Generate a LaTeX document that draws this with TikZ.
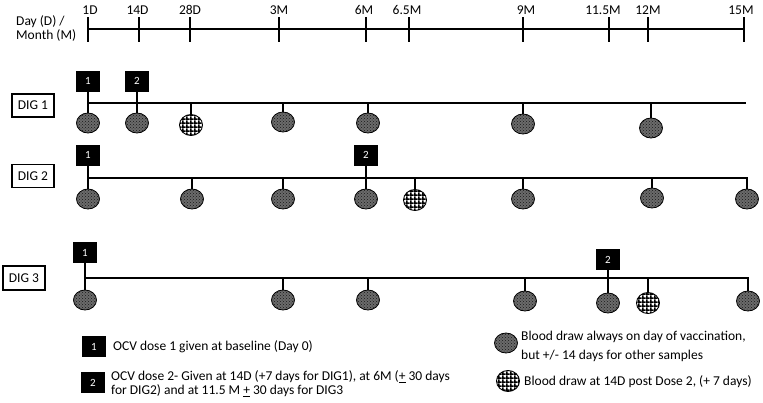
\documentclass[tikz,border=0pt]{standalone}
\usepackage{fontspec}
\setmainfont{Carlito}
\usetikzlibrary{shapes.geometric,patterns}
\pgfdeclarepatternformonly{checkgrid}{\pgfqpoint{0pt}{0pt}}{\pgfqpoint{3.8pt}{3.8pt}}{\pgfqpoint{3.8pt}{3.8pt}}{%
 \pgfpathrectangle{\pgfqpoint{0pt}{0pt}}{\pgfqpoint{3.8pt}{1.7pt}}%
 \pgfpathrectangle{\pgfqpoint{0pt}{0pt}}{\pgfqpoint{1.7pt}{3.8pt}}%
 \pgfusepath{fill}}
\begin{document}
\begin{tikzpicture}[x=1pt,y=-1pt, font=\fontsize{13.5}{14}\selectfont,
 axisline/.style={line width=1.5pt},
 tickmark/.style={line width=2pt},
 rowline/.style={line width=1.5pt},
 stem/.style={line width=1.8pt},
 dosebox/.style={fill=black, text=white, minimum width=24pt, minimum height=21pt, inner sep=0pt, font=\fontsize{11}{12}\selectfont},
 digbox/.style={draw, line width=1.2pt, minimum width=42pt, minimum height=23pt, inner sep=0pt},
 blood/.style={ellipse, draw, line width=0.8pt, minimum width=23pt, minimum height=20pt, inner sep=0pt, fill=black!58, postaction={pattern=crosshatch dots, pattern color=black!90}},
 blood14/.style={ellipse, draw, line width=0.9pt, minimum width=23pt, minimum height=21pt, inner sep=0pt, fill=white, postaction={pattern=checkgrid, pattern color=black}},
 ticklabel/.style={inner sep=0pt}
]
\useasboundingbox (0,0) rectangle (763,402);

% time axis
\node[anchor=west, align=left, inner sep=0pt] (axlab) at (16,28) {Day (D) /\\Month (M)};
\foreach \x/\n/\lab/\lx in {88/t1/1D/90, 139/t14/14D/137.5, 190/t28/28D/190, 279/t3/3M/279, 366/t6/6M/364, 409/t65/6.5M/407, 523/t9/9M/526, 609/t115/11.5M/603, 648/t12/12M/648, 744/t15/15M/741} {
 \coordinate (\n) at (\x,29);
 \draw[tickmark] (\x,17) -- (\x,42);
 \node[ticklabel] (\n lab) at (\lx,10) {\lab};
}
\draw[axisline] (t1) -- (t15);

% DIG 1
\node[digbox] (dig1) at (33,105.5) {DIG 1};
\coordinate (r1s) at (88,103);
\coordinate (r1e) at (746,103);
\draw[rowline] (r1s) -- (r1e);
\node[dosebox] (d11) at (88,81) {1};
\node[dosebox] (d12) at (137,81) {2};
\node[blood] (e11) at (88,123) {};
\node[blood] (e12) at (137,123) {};
\node[blood14] (e13) at (191,125) {};
\node[blood] (e14) at (283,122) {};
\node[blood] (e15) at (368,123) {};
\node[blood] (e16) at (523,124) {};
\node[blood] (e17) at (651,128) {};
\draw[stem] (d11.south) -- (e11.north);
\draw[stem] (d12.south) -- (e12.north);
\foreach \e in {e13,e14,e15,e16,e17} \draw[stem] (\e.north |- r1s) -- (\e.north);

% DIG 2
\node[digbox] (dig2) at (33,176) {DIG 2};
\coordinate (r2s) at (88,178);
\node[dosebox] (d21) at (88,155) {1};
\node[dosebox] (d22) at (366,155) {2};
\node[blood] (e21) at (88,199) {};
\node[blood] (e22) at (192,199) {};
\node[blood] (e23) at (283,199) {};
\node[blood] (e24) at (366,199) {};
\node[blood14] (e25) at (415,200) {};
\node[blood] (e26) at (523,199) {};
\node[blood] (e27) at (652,198) {};
\node[blood] (e28) at (747,199) {};
\draw[rowline] (r2s) -- (e28.north |- r2s) -- (e28.north);
\draw[stem] (d21.south) -- (e21.north);
\draw[stem] (d22.south) -- (e24.north);
\foreach \e in {e22,e23,e25,e26,e27} \draw[stem] (\e.north |- r2s) -- (\e.north);

% DIG 3
\node[digbox, minimum height=24pt] (dig3) at (24,278) {DIG 3};
\coordinate (r3s) at (85,278);
\node[dosebox] (d31) at (85,252.5) {1};
\node[dosebox] (d32) at (608,259.5) {2};
\node[blood] (e31) at (85,300) {};
\node[blood] (e32) at (283,300) {};
\node[blood] (e33) at (368,300) {};
\node[blood] (e34) at (525,301) {};
\node[blood] (e35) at (608,303) {};
\node[blood14] (e36) at (648,303) {};
\node[blood] (e37) at (748,301) {};
\draw[rowline] (r3s) -- (e37.north |- r3s) -- (e37.north);
\draw[stem] (d31.south) -- (e31.north);
\draw[stem] (d32.south) -- (e35.north);
\foreach \e in {e32,e33,e34,e36} \draw[stem] (\e.north |- r3s) -- (\e.north);

% legend
\node[dosebox] (k1) at (94,346.5) {1};
\node[anchor=west, inner sep=0pt] (k1t) at (113,347) {OCV dose 1 given at baseline (Day 0)};
\node[dosebox] (k2) at (93,382.5) {2};
\node[anchor=west, align=left, inner sep=0pt] (k2t) at (111,383.5) {OCV dose 2- Given at 14D (+7 days for DIG1), at 6M (\underline{+} 30 days\\for DIG2) and at 11.5 M \underline{+} 30 days for DIG3};
\node[blood] (kb) at (506,343) {};
\node[anchor=west, align=left, inner sep=0pt, font=\fontsize{13.5}{19}\selectfont] (kbt) at (521,346) {Blood draw always on day of vaccination,\\but +/- 14 days for other samples};
\node[blood14] (kc) at (508,381) {};
\node[anchor=west, inner sep=0pt] (kct) at (524,382) {Blood draw at 14D post Dose 2, (+ 7 days)};
\end{tikzpicture}
\end{document}
